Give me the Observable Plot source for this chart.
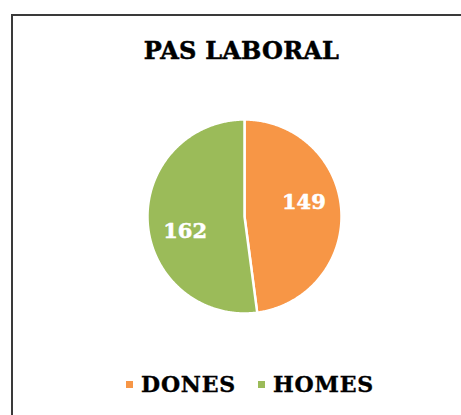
<!DOCTYPE html>
<html>
<head>
<meta charset="utf-8">
<script src="https://cdn.jsdelivr.net/npm/d3@7"></script>
<script src="https://cdn.jsdelivr.net/npm/@observablehq/plot@0.6"></script>
<style>
  html, body { margin: 0; padding: 0; background: #fff; overflow: hidden; }
  #page { position: relative; width: 461px; height: 415px; overflow: hidden; font-family: "DejaVu Serif", serif; }
  #frame { position: absolute; left: 11px; top: 14px; width: 480px; height: 430px;
           border-left: 2px solid #3a3a3a; border-top: 2px solid #3a3a3a; box-sizing: border-box; }
  #title { position: absolute; left: 0; width: 483px; top: 39px; text-align: center;
           font-size: 24px; line-height: 23px; font-weight: bold; letter-spacing: 0.2px; color: #000;
           -webkit-text-stroke: 0.5px #000; }
  #chart { position: absolute; left: 0; top: 100px; }
  #legend { position: absolute; left: 126px; top: 374px; display: flex; align-items: center;
            font-size: 22px; line-height: 21px; font-weight: bold; letter-spacing: 0.8px; color: #000;
            -webkit-text-stroke: 0.4px #000; }
  .item { display: flex; align-items: center; }
  .sw { width: 7px; height: 7px; margin-right: 8px; }
</style>
</head>
<body>
<div id="page">
  <div id="frame"></div>
  <div id="title"></div>
  <div id="chart"></div>
  <div id="legend"></div>
</div>
<script>
const title = "PAS LABORAL";
const categories = ["DONES", "HOMES"];
const values = [149, 162];
const colors = ["#F79646", "#9BBB59"];

document.getElementById("title").textContent = title;

const arcs = d3.pie().sort(null).value(d => d)(values);

const slices = [];
arcs.forEach((p, i) => {
  const n = Math.max(2, Math.ceil((p.endAngle - p.startAngle) / 0.01));
  slices.push({cat: categories[i], x: 0, y: 0});
  for (let k = 0; k <= n; k++) {
    const a = p.startAngle + (p.endAngle - p.startAngle) * k / n;
    slices.push({cat: categories[i], x: Math.sin(a), y: Math.cos(a)});
  }
  slices.push({cat: categories[i], x: 0, y: 0});
});

const labels = arcs.map((p, i) => {
  const mid = (p.startAngle + p.endAngle) / 2 - 0.17;
  return {cat: categories[i], value: p.value, x: 0.63 * Math.sin(mid), y: 0.63 * Math.cos(mid)};
});

const cx = 244, cy = 116, r = 97;

const chart = Plot.plot({
  width: 461,
  height: 240,
  margin: 0,
  x: {domain: [-1, 1], range: [cx - r, cx + r], axis: null},
  y: {domain: [-1, 1], range: [cy + r, cy - r], axis: null},
  color: {domain: categories, range: colors},
  style: {fontFamily: "DejaVu Serif, serif", background: "transparent"},
  marks: [
    Plot.line(slices, {x: "x", y: "y", z: "cat", fill: "cat", stroke: "white", strokeWidth: 2.5, strokeLinejoin: "round"}),
    Plot.text(labels, {x: "x", y: "y", text: d => String(d.value), fill: "white",
      stroke: "white", strokeWidth: 0.5,
      fontSize: 21, fontWeight: "bold", fontFamily: "DejaVu Serif, serif"})
  ]
});
document.getElementById("chart").appendChild(chart);

const legend = document.getElementById("legend");
categories.forEach((c, i) => {
  const item = document.createElement("div");
  item.className = "item";
  if (i > 0) item.style.marginLeft = "22px";
  const sw = document.createElement("div");
  sw.className = "sw";
  sw.style.background = colors[i];
  const t = document.createElement("span");
  t.textContent = c;
  item.appendChild(sw);
  item.appendChild(t);
  legend.appendChild(item);
});
</script>
</body>
</html>
